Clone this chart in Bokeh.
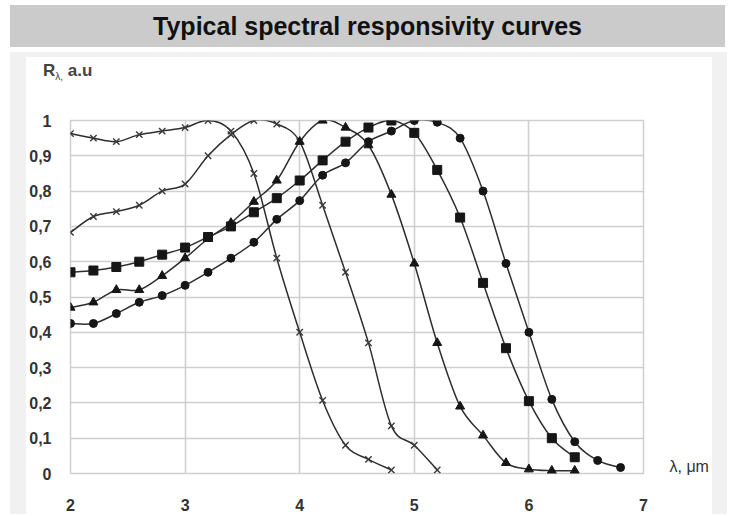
from bokeh.plotting import figure
from bokeh.models import Div, FixedTicker, LinearAxis
from bokeh.layouts import column, row
from bokeh.embed import file_html
from bokeh.resources import INLINE

# ---- data ----
title_text = "Typical spectral responsivity curves"

wl_a = [2.0, 2.2, 2.4, 2.6, 2.8, 3.0, 3.2, 3.4, 3.6, 3.8, 4.0, 4.2, 4.4, 4.6, 4.8]
r_a = [0.963, 0.95, 0.94, 0.96, 0.97, 0.98, 1.0, 0.97, 0.85, 0.61, 0.40, 0.207, 0.08, 0.04, 0.01]

wl_b = [2.0, 2.2, 2.4, 2.6, 2.8, 3.0, 3.2, 3.4, 3.6, 3.8, 4.0, 4.2, 4.4, 4.6, 4.8, 5.0, 5.2]
r_b = [0.683, 0.728, 0.742, 0.76, 0.80, 0.82, 0.90, 0.96, 1.0, 0.99, 0.94, 0.76, 0.57, 0.37, 0.135, 0.08, 0.01]

wl_c = [2.0, 2.2, 2.4, 2.6, 2.8, 3.0, 3.2, 3.4, 3.6, 3.8, 4.0, 4.2, 4.4, 4.6, 4.8, 5.0,
        5.2, 5.4, 5.6, 5.8, 6.0, 6.2, 6.4]
r_c = [0.47, 0.485, 0.52, 0.52, 0.56, 0.61, 0.665, 0.71, 0.77, 0.83, 0.94, 1.0, 0.98, 0.93,
       0.79, 0.595, 0.37, 0.19, 0.108, 0.03, 0.012, 0.008, 0.008]

wl_d = [2.0, 2.2, 2.4, 2.6, 2.8, 3.0, 3.2, 3.4, 3.6, 3.8, 4.0, 4.2, 4.4, 4.6, 4.8, 5.0,
        5.2, 5.4, 5.6, 5.8, 6.0, 6.2, 6.4]
r_d = [0.57, 0.575, 0.585, 0.60, 0.62, 0.64, 0.67, 0.70, 0.74, 0.78, 0.83, 0.887, 0.94, 0.98,
       1.0, 0.965, 0.86, 0.725, 0.54, 0.355, 0.205, 0.10, 0.046]

wl_e = [2.0, 2.2, 2.4, 2.6, 2.8, 3.0, 3.2, 3.4, 3.6, 3.8, 4.0, 4.2, 4.4, 4.6, 4.8, 5.0,
        5.2, 5.4, 5.6, 5.8, 6.0, 6.2, 6.4, 6.6, 6.8]
r_e = [0.425, 0.425, 0.453, 0.485, 0.504, 0.533, 0.57, 0.61, 0.655, 0.72, 0.773, 0.845, 0.88,
       0.94, 0.97, 1.0, 0.995, 0.95, 0.80, 0.595, 0.40, 0.21, 0.09, 0.037, 0.017]

x_ticks = [2, 3, 4, 5, 6, 7]
x_tick_labels = ["2", "3", "4", "5", "6", "7"]
y_ticks = [0, 0.1, 0.2, 0.3, 0.4, 0.5, 0.6, 0.7, 0.8, 0.9, 1]
y_tick_labels = ["0", "0,1", "0,2", "0,3", "0,4", "0,5", "0,6", "0,7", "0,8", "0,9", "1"]

y_axis_label = ["R", "λ,", "a.u"]
x_axis_label = "λ, μm"
x_axis_label_at = 0.02   # R level at which the x-axis title sits, right of the grid

# ---- styling ----
FONT = "Liberation Sans"
INK = "#2e2e2e"
GRID = "#cfcfcf"
PANEL_GRAY = "#f1f1f1"

PW, PH = 686, 431

p = figure(width=PW, height=PH, x_range=(2, 7), y_range=(0, 1),
           output_backend="svg", toolbar_location=None,
           min_border_left=42, min_border_right=69, min_border_top=37, min_border_bottom=41)
p.background_fill_color = "white"
p.border_fill_color = "white"
p.outline_line_color = GRID
p.outline_line_width = 1.5

p.xaxis.ticker = FixedTicker(ticks=x_ticks)
p.yaxis.ticker = FixedTicker(ticks=y_ticks)
p.xaxis.major_label_overrides = {t: s for t, s in zip(x_ticks, x_tick_labels)}
p.yaxis.major_label_overrides = {t: s for t, s in zip(y_ticks, y_tick_labels)}
for ax in (p.xaxis[0], p.yaxis[0]):
    ax.axis_line_color = None
    ax.major_tick_line_color = None
    ax.minor_tick_line_color = None
    ax.major_label_text_font = FONT
    ax.major_label_text_font_style = "bold"
    ax.major_label_text_font_size = "16px"
    ax.major_label_text_color = "#333333"
p.xaxis.major_label_standoff = 19
p.yaxis.major_label_standoff = 13

# x-axis title, placed as the single label of an extra right-hand axis
xt_axis = LinearAxis(ticker=FixedTicker(ticks=[x_axis_label_at]),
                     major_label_overrides={x_axis_label_at: x_axis_label},
                     axis_line_color=None, major_tick_line_color=None,
                     minor_tick_line_color=None, major_label_standoff=20,
                     major_label_text_font=FONT, major_label_text_font_size="16px",
                     major_label_text_color="#333333")
p.add_layout(xt_axis, "right")

p.xgrid.ticker = FixedTicker(ticks=x_ticks)
p.ygrid.ticker = FixedTicker(ticks=y_ticks)
for g in (p.xgrid[0], p.ygrid[0]):
    g.grid_line_color = GRID
    g.grid_line_width = 1.6


def smooth(xs, ys):
    """Catmull-Rom control points for a smoothed line through the data points."""
    n = len(xs)
    x0, y0, x1, y1, cx0, cy0, cx1, cy1 = [], [], [], [], [], [], [], []
    for i in range(n - 1):
        ip, inn = max(i - 1, 0), min(i + 2, n - 1)
        x0.append(xs[i]); y0.append(ys[i]); x1.append(xs[i + 1]); y1.append(ys[i + 1])
        cx0.append(xs[i] + (xs[i + 1] - xs[ip]) / 6.0)
        cy0.append(ys[i] + (ys[i + 1] - ys[ip]) / 6.0)
        cx1.append(xs[i + 1] - (xs[inn] - xs[i]) / 6.0)
        cy1.append(ys[i + 1] - (ys[inn] - ys[i]) / 6.0)
    return dict(x0=x0, y0=y0, x1=x1, y1=y1, cx0=cx0, cy0=cy0, cx1=cx1, cy1=cy1)


LW = 1.5
for xs, ys, mk, sz in ((wl_a, r_a, "x", 9), (wl_b, r_b, "x", 9), (wl_c, r_c, "triangle", 9),
                       (wl_d, r_d, "square", 9), (wl_e, r_e, "circle", 8)):
    p.bezier(source=smooth(xs, ys), x0="x0", y0="y0", x1="x1", y1="y1",
             cx0="cx0", cy0="cy0", cx1="cx1", cy1="cy1", line_color=INK, line_width=LW)
    if mk == "x":
        p.scatter(xs, ys, marker="x", size=sz, line_color="#3a3a3a", line_width=1.4)
    else:
        p.scatter(xs, ys, marker=mk, size=sz, fill_color="#161616", line_color="#161616")

# y-axis title (with subscript), above the grid
ylab_html = ('<div style="position:relative; left:17px; top:2px; white-space:nowrap; '
             'font-family:\'Liberation Sans\', Arial, sans-serif; color:#444444; font-size:17px;">'
             '<b>' + y_axis_label[0] + '</b><sub style="font-size:10px;">' + y_axis_label[1] +
             '</sub> <b>' + y_axis_label[2] + '</b></div>')
ylab_div = Div(text=ylab_html, width=PW, height=26, margin=0,
               styles={"background-color": "white"})

title_div = Div(text=title_text, width=715, height=42, margin=(5, 0, 0, 10),
                styles={"background-color": "#cbcbcb", "text-align": "center",
                        "font-family": "'Liberation Sans', Arial, sans-serif",
                        "font-weight": "bold", "font-size": "25px", "line-height": "42px",
                        "color": "#111111"})
top_gray = Div(text="", width=717, height=5, margin=(5, 0, 0, 10),
               styles={"background-color": PANEL_GRAY})
left_gray = Div(text="", width=16, height=PH + 26, margin=0,
                styles={"background-color": PANEL_GRAY})
right_gray = Div(text="", width=15, height=PH + 26, margin=0,
                 styles={"background-color": PANEL_GRAY})

layout = column(title_div, top_gray,
                row(left_gray, column(ylab_div, p), right_gray, margin=(0, 0, 0, 10)))

open("out.html", "w").write(file_html(layout, INLINE))
